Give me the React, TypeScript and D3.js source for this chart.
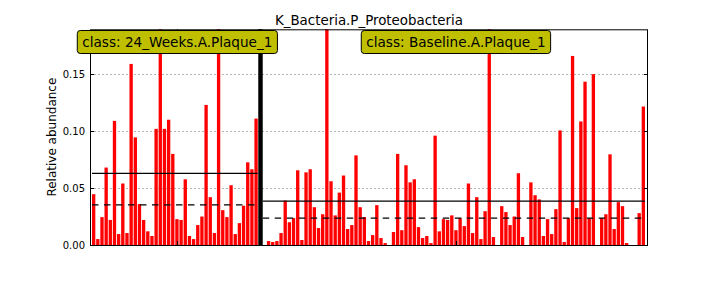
import React, { useEffect, useRef } from 'react';
import * as d3 from 'd3';

const TITLE = 'K_Bacteria.P_Proteobacteria';
const Y_LABEL = 'Relative abundance';
const classNames = ['24_Weeks.A.Plaque_1', 'Baseline.A.Plaque_1'];

const weeks24Values = [
  0.0446, 0.0052, 0.0245, 0.068, 0.022, 0.109, 0.0096, 0.054, 0.0105, 0.159,
  0.0945, 0.036, 0.022, 0.012, 0.0079, 0.102, 0.31, 0.102, 0.11, 0.08,
  0.0227, 0.022, 0.0577, 0.0079, 0.0052, 0.0175, 0.025, 0.123, 0.042, 0.0105,
  0.38, 0.0306, 0.0245, 0.0525, 0.0096, 0.0192, 0.0345, 0.0726, 0.0665, 0.111,
];

const baselineValues = [
  0.0035, 0.0026, 0.0035, 0.0105, 0.039, 0.02, 0.0236, 0.0656, 0.0044, 0.0638,
  0.0665, 0.0332, 0.0149, 0.027, 0.27, 0.056, 0.026, 0.046, 0.061, 0.014,
  0.0175, 0.0787, 0.0332, 0.0245, 0.0035, 0.0087, 0.035, 0.0061, 0.0017, 0,
  0.0114, 0.08, 0.013, 0.07, 0.055, 0.0577, 0.0157, 0.0061, 0.0079, 0.0017,
  0.096, 0.012, 0.0227, 0.022, 0.026, 0.013, 0.0236, 0.0166, 0.054, 0.0105,
  0.042, 0.0052, 0.0297, 0.24, 0.007, 0, 0.0341, 0.0289, 0.0175, 0.025,
  0.063, 0.007, 0, 0.055, 0.0437, 0.04, 0.0079, 0.0227, 0.0096, 0.0315,
  0.1006, 0.0026, 0.0236, 0.166, 0.0324, 0.1085, 0.1434, 0.0236, 0.15, 0,
  0.0236, 0.027, 0.0796, 0.014, 0.0376, 0.0341, 0.0017, 0, 0, 0.028,
  0.1216,
];

const classValues = [weeks24Values, baselineValues];
const yTicks = [0, 0.05, 0.1, 0.15];
const yTickLabels = ['0.00', '0.05', '0.10', '0.15'];

const W = 720;
const H = 288;
const PLOT = { left: 90, right: 648, top: 29.3, bottom: 245 };
const Y_MAX = 0.1894;
const BAR_W = 0.8;
const FONT = 'DejaVu Sans, sans-serif';

export default function App() {
  const ref = useRef<SVGSVGElement>(null);

  useEffect(() => {
    const svg = d3.select(ref.current);
    svg.selectAll('*').remove();

    // slot layout: class bars, then separator slot and one empty slot
    const layout: { start: number; n: number }[] = [];
    let pos = 0;
    classValues.forEach((vals, k) => {
      layout.push({ start: pos, n: vals.length });
      pos += vals.length + (k < classValues.length - 1 ? 2 : 0);
    });
    const totalSlots = pos;

    const x = d3
      .scaleLinear()
      .domain([-0.48, totalSlots + 0.52])
      .range([PLOT.left, PLOT.right]);
    const y = d3.scaleLinear().domain([0, Y_MAX]).range([PLOT.bottom, PLOT.top]);

    svg
      .append('defs')
      .append('clipPath')
      .attr('id', 'plotclip')
      .append('rect')
      .attr('x', PLOT.left)
      .attr('y', PLOT.top)
      .attr('width', PLOT.right - PLOT.left)
      .attr('height', PLOT.bottom - PLOT.top);

    // grid
    svg
      .append('g')
      .selectAll('line')
      .data(yTicks.slice(1))
      .join('line')
      .attr('x1', PLOT.left)
      .attr('x2', PLOT.right)
      .attr('y1', (d) => Math.round(y(d)) + 0.5)
      .attr('y2', (d) => Math.round(y(d)) + 0.5)
      .attr('stroke', '#b4b4b4')
      .attr('stroke-width', 1)
      .attr('stroke-dasharray', '2,2');

    const plotG = svg.append('g').attr('clip-path', 'url(#plotclip)');

    classValues.forEach((vals, k) => {
      const { start } = layout[k];
      plotG
        .append('g')
        .selectAll('rect')
        .data(vals)
        .join('rect')
        .attr('x', (_, i) => x(start + i))
        .attr('width', x(BAR_W) - x(0))
        .attr('y', (d) => y(d))
        .attr('height', (d) => y(0) - y(d))
        .attr('fill', '#ff0000');
    });

    // separators
    layout.slice(0, -1).forEach((l) => {
      const s = l.start + l.n;
      plotG
        .append('rect')
        .attr('x', x(s) - 0.3)
        .attr('width', x(s + 1) - x(s) + 0.3)
        .attr('y', PLOT.top - 5)
        .attr('height', PLOT.bottom - PLOT.top + 5)
        .attr('fill', '#000');
    });

    // mean / median lines
    classValues.forEach((vals, k) => {
      const { start, n } = layout[k];
      const x1 = k === 0 ? x(start) : x(start - 1);
      const x2 = k < classValues.length - 1 ? x(start + n) - 1 : x(start + n - 1 + BAR_W);
      const mean = d3.mean(vals) as number;
      const med = d3.median(vals) as number;
      svg
        .append('line')
        .attr('x1', x1)
        .attr('x2', x2)
        .attr('y1', y(mean))
        .attr('y2', y(mean))
        .attr('stroke', '#000')
        .attr('stroke-width', 1.2);
      svg
        .append('line')
        .attr('x1', x1)
        .attr('x2', x2)
        .attr('y1', y(med))
        .attr('y2', y(med))
        .attr('stroke', '#000')
        .attr('stroke-width', 1.2)
        .attr('stroke-dasharray', '6.5,5.5');
    });

    // spines
    svg
      .append('rect')
      .attr('x', PLOT.left + 0.5)
      .attr('y', PLOT.top + 0.5)
      .attr('width', PLOT.right - PLOT.left - 1)
      .attr('height', PLOT.bottom - PLOT.top)
      .attr('fill', 'none')
      .attr('stroke', '#000')
      .attr('stroke-width', 1);

    // y ticks (inward, both sides)
    const tickG = svg.append('g');
    yTicks.forEach((t, i) => {
      const yy = Math.round(y(t)) + 0.5;
      tickG
        .append('line')
        .attr('x1', PLOT.left)
        .attr('x2', PLOT.left + 4)
        .attr('y1', yy)
        .attr('y2', yy)
        .attr('stroke', '#000');
      tickG
        .append('line')
        .attr('x1', PLOT.right)
        .attr('x2', PLOT.right - 4)
        .attr('y1', yy)
        .attr('y2', yy)
        .attr('stroke', '#000');
      tickG
        .append('text')
        .attr('x', PLOT.left - 5)
        .attr('y', y(t))
        .attr('dy', '0.36em')
        .attr('text-anchor', 'end')
        .attr('font-family', FONT)
        .attr('font-size', 10)
        .attr('fill', '#000')
        .text(yTickLabels[i]);
    });

    // class centers (x ticks + labels)
    const centers = layout.map((l, k) => {
      const a = x(l.start);
      const b = k < layout.length - 1 ? x(l.start + l.n + 1) : x(l.start + l.n - 1 + BAR_W);
      return (a + b) / 2;
    });
    centers.forEach((c) => {
      const cx = Math.round(c) + 0.5;
      tickG.append('line').attr('x1', cx).attr('x2', cx).attr('y1', PLOT.bottom).attr('y2', PLOT.bottom - 4).attr('stroke', '#000');
      tickG.append('line').attr('x1', cx).attr('x2', cx).attr('y1', PLOT.top).attr('y2', PLOT.top + 4).attr('stroke', '#000');
    });

    // title
    svg
      .append('text')
      .attr('x', (PLOT.left + PLOT.right) / 2)
      .attr('y', 24.5)
      .attr('text-anchor', 'middle')
      .attr('font-family', FONT)
      .attr('font-size', 13.4)
      .attr('fill', '#000')
      .text(TITLE);

    // y label
    svg
      .append('text')
      .attr('transform', `translate(55.5, ${(PLOT.top + PLOT.bottom) / 2}) rotate(-90)`)
      .attr('text-anchor', 'middle')
      .attr('font-family', FONT)
      .attr('font-size', 12)
      .attr('fill', '#000')
      .text(Y_LABEL);

    // class label boxes
    centers.forEach((c, k) => {
      const g = svg.append('g');
      const rect = g.append('rect');
      const txt = g
        .append('text')
        .attr('x', c)
        .attr('y', 46.5)
        .attr('text-anchor', 'middle')
        .attr('font-family', FONT)
        .attr('font-size', 13.6)
        .attr('fill', '#000')
        .text(`class: ${classNames[k]}`);
      const tw = (txt.node() as SVGTextElement).getComputedTextLength();
      const pad = 5;
      rect
        .attr('x', c - tw / 2 - pad)
        .attr('y', 30.5)
        .attr('width', tw + 2 * pad)
        .attr('height', 23)
        .attr('rx', 3)
        .attr('ry', 3)
        .attr('fill', '#bfbf00')
        .attr('stroke', '#000')
        .attr('stroke-width', 1);
    });
  }, []);

  return (
    <svg
      ref={ref}
      width={W}
      height={H}
      style={{ position: 'absolute', left: 0, top: 0, background: '#fff' }}
    />
  );
}
